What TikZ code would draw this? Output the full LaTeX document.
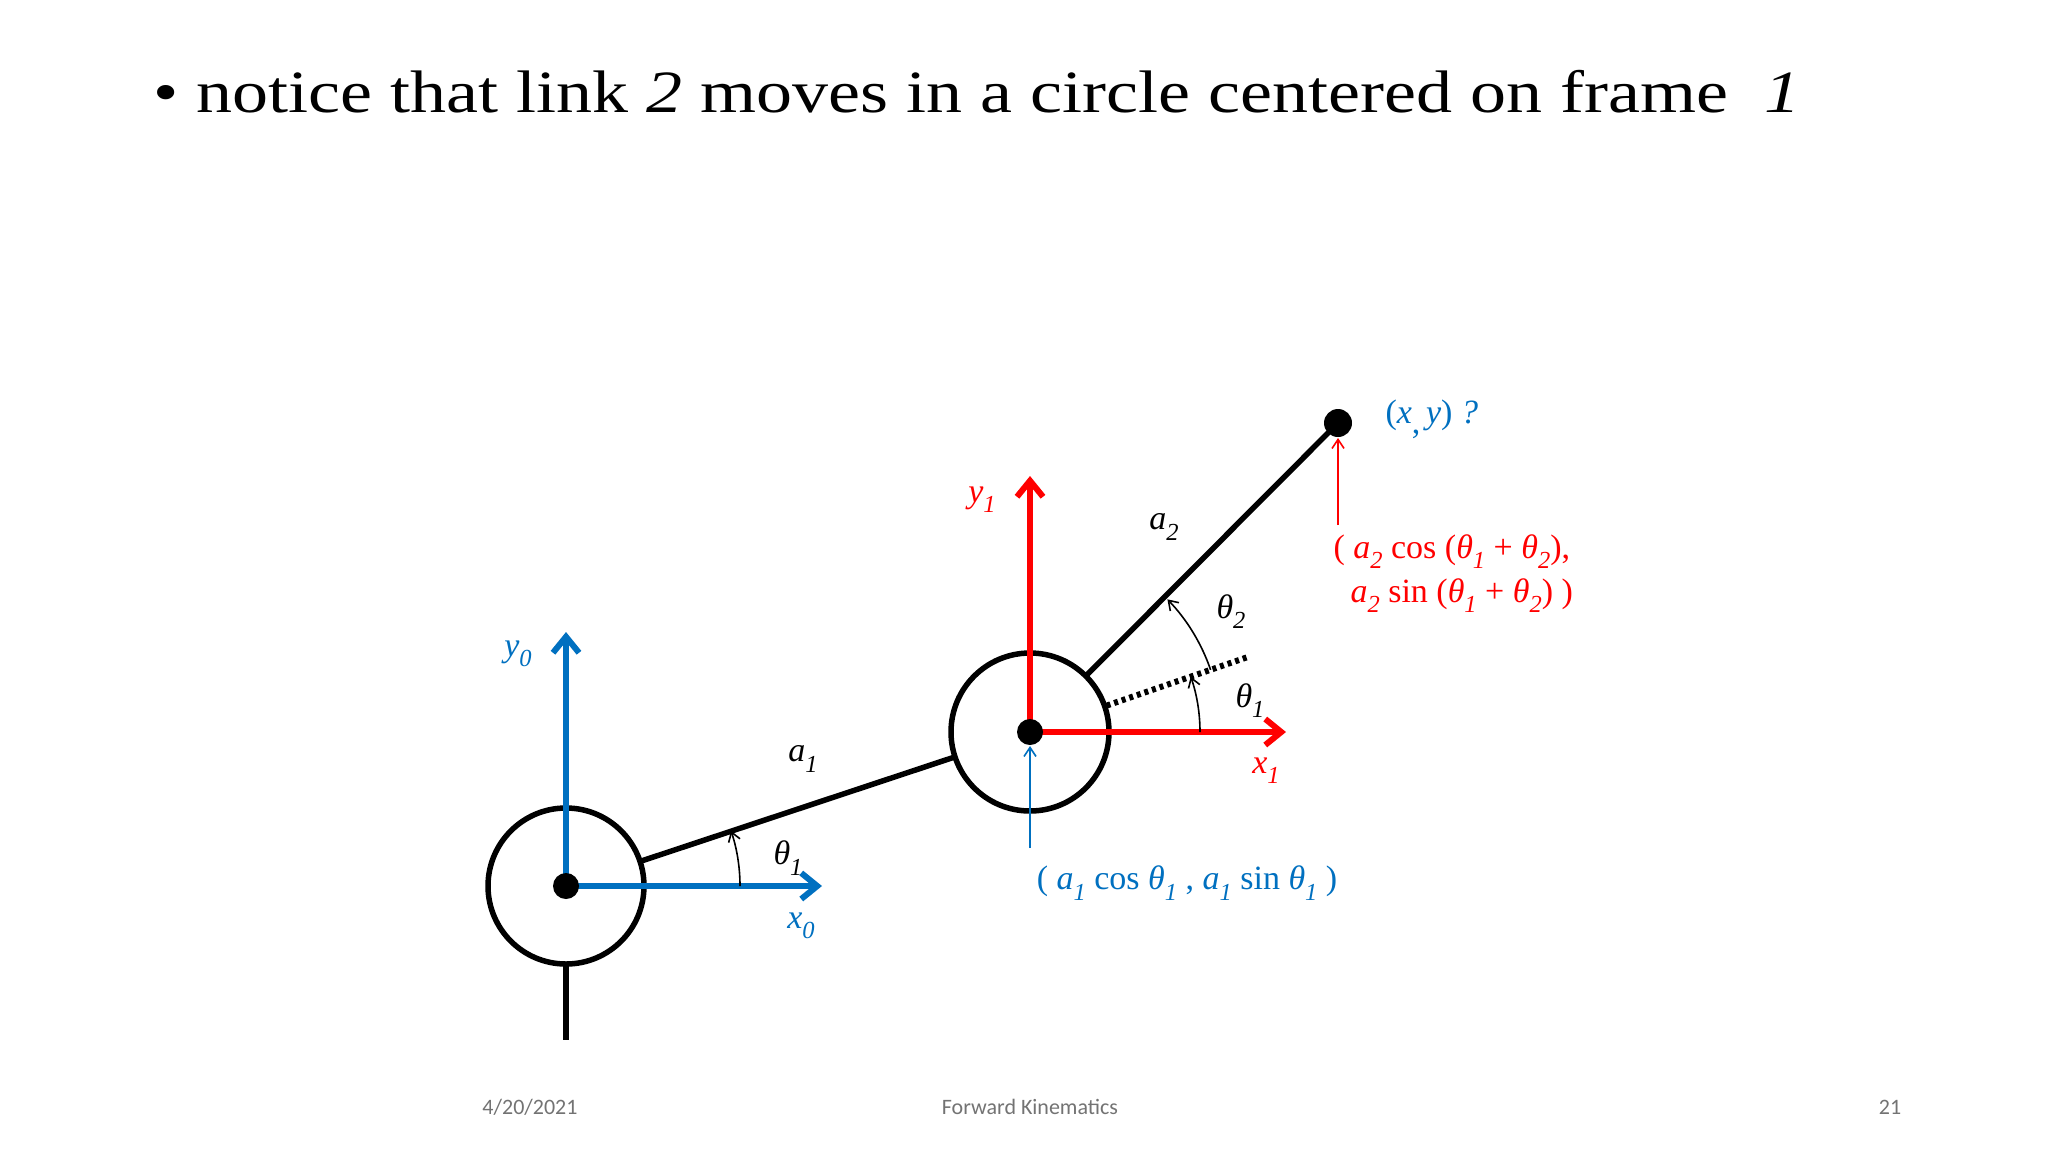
\documentclass[tikz,border=0pt]{standalone}
\usepackage{fontspec}
\setmainfont{Liberation Serif}
\newfontfamily\foot{Carlito}
\usetikzlibrary{arrows.meta,calc}
\definecolor{pblue}{RGB}{0,112,192}
\definecolor{pred}{RGB}{255,0,0}
\newcommand\dn[1]{\raisebox{-0.3em}{\scalebox{0.72}{\itshape #1}}}
\begin{document}
\begin{tikzpicture}[x=1pt,y=-1pt,
  axis/.style={line width=6pt,-{Straight Barb[length=16pt,width=26pt,line width=6pt]}},
  link/.style={line width=5.5pt},
  thin arr/.style={line width=1.6pt,-{Straight Barb[length=9pt,width=12pt]}},
  lbl/.style={font=\fontsize{34}{40}\selectfont\itshape},
  footer/.style={font=\foot\fontsize{22}{26}\selectfont,text=black!55}]
\useasboundingbox (0,0) rectangle (2048,1152);
\fill[white] (0,0) rectangle (2048,1152);
\node[anchor=west,font=\fontsize{60}{70}\selectfont] (title) at (150,92)
  {\scalebox{1.2}[1]{\textbullet\ notice that link \textit{2} moves in a circle centered on frame \ \textit{1}}};
% geometry
\coordinate (O0) at (566,886);
\coordinate (O1) at (1030,732);
\coordinate (E) at (1338,423);
\draw[link] (O0) circle (78);
\draw[link] (O1) circle (79);
\draw[link] (566,964) -- (566,1040);
\draw[link] ($(O0)!78pt!(O1)$) -- ($(O1)!79pt!(O0)$);
\draw[link] ($(O1)!79pt!(E)$) -- (E);
\fill (E) circle (14);
\draw[line width=6pt,dash pattern=on 4pt off 4pt] ($(O1)+(-19:81)$) -- ($(O1)+(-19:230)$);
% axes
\draw[axis,pblue] (O0) -- (566,632);
\draw[axis,pblue] (O0) -- (822,886);
\fill (O0) circle (13);
\draw[axis,pred] (O1) -- (1030,476);
\draw[axis,pred] (O1) -- (1286,732);
\fill (O1) circle (13);
% angle arcs
\draw[thin arr] ($(O0)+(0:174)$) arc (0:-18.5:174);
\draw[thin arr] ($(O1)+(0:170)$) arc (0:-19:170);
\draw[thin arr] ($(O1)+(-19:191)$) arc (-19:-44:191);
% labels
\node[lbl,pblue] (y0) at (518,654) {y\dn{0}};
\node[lbl,pblue] (x0) at (801,926) {x\dn{0}};
\node[lbl] (t1a) at (788,858) {θ\dn{1}};
\node[lbl] (a1) at (803,759) {a\dn{1}};
\node[lbl,pred] (y1) at (982,500) {y\dn{1}};
\node[lbl,pred] (x1) at (1266,771) {x\dn{1}};
\node[lbl] (a2) at (1164,527) {a\dn{2}};
\node[lbl] (t2) at (1231,612) {θ\dn{2}};
\node[lbl] (t1b) at (1250,701) {θ\dn{1}};
\node[lbl,pblue,anchor=west,font=\fontsize{34}{40}\selectfont] (xy) at (1382,419) {(\textit{x}\raisebox{-0.3em}{,}\,\textit{y}) \textit{?}};
\node[pred,anchor=west,align=left,font=\fontsize{34}{44}\selectfont] (r) at (1330,574)
  {( \textit{a}\dn{2} cos (\textit{θ}\dn{1} + \textit{θ}\dn{2}),\\
   \ \ \textit{a}\dn{2} sin (\textit{θ}\dn{1} + \textit{θ}\dn{2}) )};
\node[pblue,font=\fontsize{34}{40}\selectfont] (b) at (1187,883)
  {( \textit{a}\dn{1} cos \textit{θ}\dn{1} , \textit{a}\dn{1} sin \textit{θ}\dn{1} )};
\coordinate (rs) at (1338,525);
\coordinate (bs) at (1030,848);
\draw[thin arr,pred] (rs) -- (1338,438);
\draw[thin arr,pblue] (bs) -- (1030,746);
% footer
\node[footer] (d) at (530,1107) {4/20/2021};
\node[footer] (f) at (1030,1107) {Forward Kinematics};
\node[footer] (n) at (1890,1107) {21};
\end{tikzpicture}
\end{document}
